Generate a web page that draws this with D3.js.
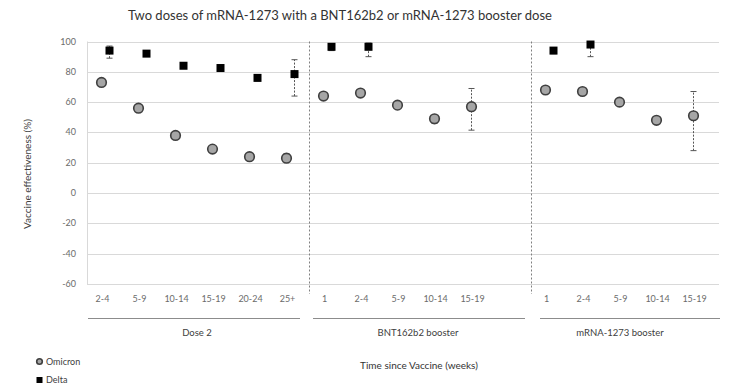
<!DOCTYPE html>
<meta charset="utf-8">
<title>Vaccine effectiveness</title>
<style>
body { margin: 0; background: #fff; }
text { font-family: Lato, "Open Sans", sans-serif; }
.grid line { stroke: #d9d9d9; stroke-width: 1px; }
.tick-label { font-size: 9px; fill: #6b6b6b; }
.divider { stroke: #7f7f7f; stroke-width: 1px; stroke-dasharray: 2,2; }
.ebar { stroke: #555; stroke-width: 1px; stroke-dasharray: 2,1.5; fill: none; }
.ecap { stroke: #555; stroke-width: 1px; }
.omicron { fill: #a6a6a6; stroke: #3f3f3f; stroke-width: 1.6px; }
.delta { fill: #000; }
</style>
<svg width="734" height="384"></svg>
<script src="https://d3js.org/d3.v7.min.js"></script>
<script>

// groups along the x axis and the week bins inside each
var groups = ["Dose 2", "BNT162b2 booster", "mRNA-1273 booster"];
var weeks = [
  ["2-4", "5-9", "10-14", "15-19", "20-24", "25+"],
  ["1", "2-4", "5-9", "10-14", "15-19"],
  ["1", "2-4", "5-9", "10-14", "15-19"]
];

// vaccine effectiveness (%), point estimate and 95% CI
var omicron   = [[73, 56, 38, 29, 24, 23], [64, 66, 58, 49, 57], [68, 67, 60, 48, 51]];
var omicronLo = [[71, 54, 36.5, 28, 22, 21], [62, 64, 56, 46, 41.5], [66, 65, 58, 46, 28]];
var omicronHi = [[75, 58, 40, 30.5, 26, 26], [66, 68, 60, 51, 69], [70, 69, 62, 50, 67]];

var delta   = [[94, 92, 84, 82.5, 76, 78.5], [96.5, 96.5], [94, 98]];
var deltaLo = [[89, 90.5, 83, 81, 74, 64], [94, 90], [92, 90]];
var deltaHi = [[97, 93.5, 85.5, 84, 78, 88], [98.5, 99], [96, 99.5]];

var yTicks = [100, 80, 60, 40, 20, 0, -20, -40, -60];

var svg = d3.select("svg");

// slots: one per week bin, with an empty slot before the mRNA-1273 group
var slots = [];
groups.forEach(function(g, gi) {
  if (gi == 2) slots.push("gap");
  weeks[gi].forEach(function(w) { slots.push(gi + "|" + w); });
});

var x = d3.scaleBand().domain(slots).range([87, 716]);
var y = d3.scaleLinear().domain([-60, 100]).range([284, 41.5]);

// gridlines
svg.append("g").attr("class", "grid")
  .selectAll("line").data(yTicks).enter().append("line")
    .attr("x1", 87).attr("x2", 719)
    .attr("y1", function(d) { return Math.round(y(d)) + 0.5; })
    .attr("y2", function(d) { return Math.round(y(d)) + 0.5; });

svg.append("line")
  .attr("x1", 87.5).attr("x2", 87.5)
  .attr("y1", y(100)).attr("y2", y(-60))
  .attr("stroke", "#d9d9d9");

// y tick labels
svg.append("g").selectAll("text").data(yTicks).enter().append("text")
  .attr("class", "tick-label")
  .attr("x", 76).attr("y", function(d) { return y(d) + 3; })
  .attr("text-anchor", "end")
  .text(function(d) { return d; });

// dashed dividers between the groups
var divX = [x("1|1"), x("2|1")];
svg.selectAll(".divider").data(divX).enter().append("line")
  .attr("class", "divider")
  .attr("x1", function(d) { return Math.round(d) + 0.5; })
  .attr("x2", function(d) { return Math.round(d) + 0.5; })
  .attr("y1", y(100)).attr("y2", 294);

// x tick labels
var ticks = [];
groups.forEach(function(g, gi) {
  weeks[gi].forEach(function(w) { ticks.push({ key: gi + "|" + w, label: w }); });
});
svg.append("g").selectAll("text").data(ticks).enter().append("text")
  .attr("class", "tick-label")
  .attr("x", function(d) { return x(d.key) + x.bandwidth() / 2 - 3; })
  .attr("y", 302)
  .attr("text-anchor", "middle")
  .text(function(d) { return d.label; });

// group underlines and names
var spans = groups.map(function(g, gi) { return { name: g }; });
spans[0].x0 = 88; spans[0].x1 = 300;
spans[1].x0 = 313; spans[1].x1 = 525;
spans[2].x0 = 540; spans[2].x1 = 720;

var sg = svg.append("g").selectAll("g").data(spans).enter().append("g");
sg.append("line")
  .attr("x1", function(d) { return d.x0; }).attr("x2", function(d) { return d.x1; })
  .attr("y1", 318.5).attr("y2", 318.5)
  .attr("stroke", "#8c8c8c").attr("stroke-width", 1.2);
sg.append("text")
  .attr("x", function(d, i) { return [197, 418, 620][i]; })
  .attr("y", 336)
  .attr("text-anchor", "middle")
  .attr("font-size", 9.5).attr("fill", "#404040")
  .text(function(d) { return d.name; });

// points
function pointsFor(est, lo, hi) {
  var pts = [];
  groups.forEach(function(g, gi) {
    est[gi].forEach(function(v, wi) {
      pts.push({ key: gi + "|" + weeks[gi][wi], v: v, lo: lo[gi][wi], hi: hi[gi][wi] });
    });
  });
  return pts;
}
var omiPts = pointsFor(omicron, omicronLo, omicronHi);
var delPts = pointsFor(delta, deltaLo, deltaHi);

function errorBars(pts, dx) {
  var g = svg.append("g");
  var cx = function(d) { return x(d.key) + x.bandwidth() / 2 + dx; };
  g.selectAll(".ebar").data(pts).enter().append("line")
    .attr("class", "ebar")
    .attr("x1", cx).attr("x2", cx)
    .attr("y1", function(d) { return y(d.lo); })
    .attr("y2", function(d) { return y(d.hi); });
  ["lo", "hi"].forEach(function(k) {
    g.selectAll(".cap-" + k).data(pts).enter().append("line")
      .attr("class", "ecap")
      .attr("x1", function(d) { return cx(d) - 3; })
      .attr("x2", function(d) { return cx(d) + 3; })
      .attr("y1", function(d) { return y(d[k]); })
      .attr("y2", function(d) { return y(d[k]); });
  });
}
errorBars(omiPts, -4);
errorBars(delPts, 4);

svg.append("g").selectAll("circle").data(omiPts).enter().append("circle")
  .attr("class", "omicron")
  .attr("cx", function(d) { return x(d.key) + x.bandwidth() / 2 - 4; })
  .attr("cy", function(d) { return y(d.v); })
  .attr("r", 4.8);

svg.append("g").selectAll("rect").data(delPts).enter().append("rect")
  .attr("class", "delta")
  .attr("x", function(d) { return x(d.key) + x.bandwidth() / 2 + 4 - 4; })
  .attr("y", function(d) { return y(d.v) - 4; })
  .attr("width", 8).attr("height", 8);

// titles
svg.append("text")
  .attr("x", 340).attr("y", 20)
  .attr("text-anchor", "middle")
  .attr("font-size", 13).attr("fill", "#333")
  .text("Two doses of mRNA-1273 with a BNT162b2 or mRNA-1273 booster dose");

svg.append("text")
  .attr("transform", "translate(31,174) rotate(-90)")
  .attr("text-anchor", "middle")
  .attr("font-size", 10).attr("fill", "#404040")
  .text("Vaccine effectiveness (%)");

svg.append("text")
  .attr("x", 419).attr("y", 369)
  .attr("text-anchor", "middle")
  .attr("font-size", 10).attr("fill", "#333")
  .text("Time since Vaccine (weeks)");

// legend
var legend = svg.append("g");
legend.append("circle").attr("class", "omicron")
  .attr("cx", 39.5).attr("cy", 361.5).attr("r", 2.8).attr("stroke-width", 1.4);
legend.append("text").attr("x", 46).attr("y", 365)
  .attr("font-size", 9).attr("fill", "#404040").text("Omicron");
legend.append("rect").attr("class", "delta")
  .attr("x", 36.5).attr("y", 377).attr("width", 6).attr("height", 6);
legend.append("text").attr("x", 46).attr("y", 383)
  .attr("font-size", 9).attr("fill", "#404040").text("Delta");

</script>
